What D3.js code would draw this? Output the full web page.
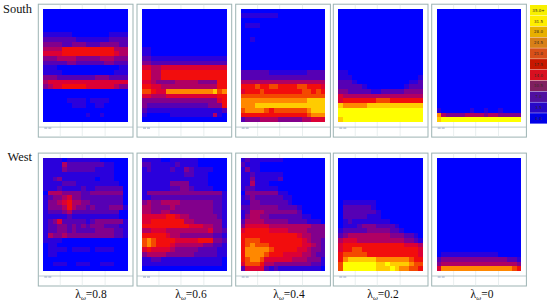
<!DOCTYPE html>
<html>
<head>
<meta charset="utf-8">
<script src="https://cdn.jsdelivr.net/npm/d3@7"></script>
<style>
    html, body { margin: 0; padding: 0; background: #fff; }
    svg { display: block; }
    text { font-family: "Liberation Serif", serif; fill: #111; }
</style>
</head>
<body>
<div id="chart"></div>
<script>
// Values are colour classes, one hex digit per cell (0..a), top row first.
// A class is one step of the legend, so class * 3.5 is the value.
const south08 = [
    '000000000000000000', '000000000000000000', '000000000000000000', '000000000000000000',
    '000000000000000000', '111111000000001111', '222222211111112222', '333322333222333322',
    '444466666666666444', '555566666666666544', '333444433333444333', '222223322222233222',
    '111000000000000011', '111100000000000111', '333222222223332222', '455555555555555555',
    '345566666555555433', '000000000000000000', '000000000000000000', '000001111011110000',
    '000000111001100000', '000000000000000000', '000000000100100000', '000000000000000000'
];
const south06 = [
    '000000000000000000', '000000000000000000', '000000000000000000', '000000000000000000',
    '000000000000000000', '000000000000000000', '000000000000000000', '000000000000000000',
    '110000000000000000', '110000000000000000', '221111111111111111', '332222222222222222',
    '554455555555555555', '664466666666666666', '664466666666666666', '554333344444333366',
    '665544444444444466', '776558888888888978', '554445555555555566', '333333333333333356',
    '322222222222223336', '211111111111111112', '100000111111111410', '000000000000000000'
];
const south04 = [
    '000000000000000000', '111111110000000000', '000000000000000000', '011100000000000000',
    '000000000000000000', '000000000000000000', '001000000000000000', '000000000000000000',
    '000000000000000000', '000000000000000000', '000000000000000000', '000000000000000000',
    '000000000000000000', '222222111111112222', '222222222222222222', '444444444444444444',
    '666766776666776665', '566676666666677676', '777777777777777777', '888888888888889999',
    '888999999999999999', '788887677777778999', '666666666666667888', '233344443333344555'
];
const south02 = [
    '000000000000000000', '000000000000000000', '000000000000000000', '000000000000000000',
    '000000000000000000', '000000000000000000', '000000000000000000', '000000000000000000',
    '000000000000000000', '000000000000000000', '000000000000000000', '000000000000000000',
    '000000000000000000', '110000000000000000', '111000000000000001', '222100000000000112',
    '222221000000001222', '332222211222223333', '544444444444444444', '566666667776666666',
    '988888999999999999', 'aaaaaaaaaaaaaaaaaa', 'aaaaaaaaaaaaaaaaaa', '9aaaaaaaaaaaaaaaaa'
];
const south00 = [
    '000000000000000000', '000000000000000000', '000000000000000000', '000000000000000000',
    '000000000000000000', '000000000000000000', '000000000000000000', '000000000000000000',
    '000000000000000000', '000000000000000000', '000000000000000000', '000000000000000000',
    '000000000000000000', '000000000000000000', '000000000000000000', '000000000000000000',
    '000000000000000000', '000000000000000000', '000000000000000000', '000000000000000000',
    '000000000000000000', '100000010010010000', '843333444434433333', '9aaaaaaaaaaaaaaaaa'
];
const west08 = [
    '111101111111000000', '111142222222211000', '111132222221111000', '111111111111111000',
    '112311111110111000', '111122211111111100', '111211112112222220', '044433332233333330',
    '123345332222222220', '133456443322222220', '133346433232223331', '122234222222222200',
    '111112111111111100', '123522222123333331', '122332323233322211', '122332322223333221',
    '143343333333333221', '111100000000000000', '011000000000000000', '011110111101111000',
    '011000000000000000', '000000000000000000', '001110011100111000', '000000000000000000'
];
const west06 = [
    '111100111111000000', '221111121111000000', '121111211321111000', '111111111221110000',
    '111111111111110000', '111111333311110000', '111111223321111000', '133333333333333331',
    '112222222222222221', '343344443333333221', '443333433333333221', '443344333333333221',
    '555556654433333321', '556666666443333331', '666666666655544331', '445554444444445332',
    '666665443333333221', '787666655555666332', '787666544444433221', '565555433333222211',
    '344443333332222211', '112211111111111110', '111111111111111110', '000000000000000000'
];
const west04 = [
    '121111111000000000', '211100000000000000', '131100000000000000', '112111111000000000',
    '113111112000000000', '114111000000000000', '122111110000000000', '033333331100000000',
    '123222222110000000', '113322222210000000', '223333332222100000', '124443333333200000',
    '134433222222211000', '244443333322221110', '355555444444444333', '566666555544443333',
    '666666666666544333', '677766666666654332', '678777666666655432', '688888766666554332',
    '688887666555544322', '678875555554443331', '577764433333333221', '255552121111111110'
];
const west02 = [
    '000000000000000000', '000000000000000000', '000000000000000000', '000000000000000000',
    '000000000000000000', '000000000000000000', '000000000000000000', '000000000000000000',
    '000000000000000000', '011111110000000000', '022222210000000000', '022222221000000000',
    '022222111000000000', '012111111110000000', '011123332222100000', '122222333332210000',
    '234444444443332210', '455544444444443321', '566666666666665554', '566776666666666665',
    '677777666666666665', '689999998888888766', '7aaaaaaa99a9999877', '7aaaaaaa999a988776'
];
const west00 = [
    '000000000000000000', '000000000000000000', '000000000000000000', '000000000000000000',
    '000000000000000000', '000000000000000000', '000000000000000000', '000000000000000000',
    '000000000000000000', '000000000000000000', '000000000000000000', '000000000000000000',
    '000000000000000000', '000000000000000000', '000000000000000000', '000000000000000000',
    '000000000000000000', '000000000000000000', '000000000000000000', '000000000000000000',
    '011111111111100000', '233333333333333221', '344444444444444443', '588888888888888876'
];

const southPanels = [south08, south06, south04, south02, south00];
const westPanels = [west08, west06, west04, west02, west00];
const panelLabels = ['0.8', '0.6', '0.4', '0.2', '0'];
const rowLabels = ['South', 'West'];

// Legend, top box first
const legendLabels = ['35.0+', '31.5', '28.0', '24.5', '21.0', '17.5', '14.0', '10.5', '7.0', '3.5', '0.0'];
const legendColors = ['#f8f000', '#ffee00', '#e8b000', '#d88018', '#d85018', '#c81800', '#d81020', '#802060', '#5010a0', '#2808c8', '#0000e8'];

// Colours of the cells, low to high
const heatStops = [0, 3.5, 7, 10.5, 14, 17.5, 21, 24.5, 28, 31.5, 35];
const heatColors = ['#0000ff', '#2c00dc', '#5600b4', '#82008c', '#b00064', '#dc0034', '#f20808', '#f44800', '#ff8800', '#ffcc00', '#ffff00'];

const width = 550;
const height = 303;
const heatW = 84.7;
const heatH = 113.4;
const heatLefts = [43.3, 142, 240.7, 338.3, 436.7];
const heatTops = [8.7, 157.6];
const labelCenters = [91, 191, 289, 383, 482];

const color = d3.scaleLinear().domain(heatStops).range(heatColors);

const svg = d3.select('#chart')
    .append('svg')
    .attr('width', width)
    .attr('height', height);

svg.append('defs')
    .append('filter')
    .attr('id', 'soft')
    .attr('x', '-2%').attr('y', '-2%').attr('width', '104%').attr('height', '104%')
    .append('feGaussianBlur')
    .attr('stdDeviation', 0.55);

const xCell = d3.scaleBand().domain(d3.range(18)).range([0, heatW]);
const yCell = d3.scaleBand().domain(d3.range(24)).range([0, heatH]);

// Draw one small multiple: frame, faint grid, then the heat cells
const drawPanel = (rows, left, top) => {
    const g = svg.append('g').attr('transform', `translate(${left}, ${top})`);

    g.append('rect')
        .attr('x', -5).attr('y', -4.5)
        .attr('width', heatW + 10).attr('height', heatH + 19.5)
        .attr('fill', '#fff')
        .attr('stroke', '#9db3b3')
        .attr('stroke-width', 1);

    g.selectAll('.grid')
        .data([0.2, 0.46, 0.73])
        .enter()
        .append('line')
        .attr('class', 'grid')
        .attr('x1', d => heatW * d).attr('x2', d => heatW * d)
        .attr('y1', -4).attr('y2', heatH + 14.5)
        .attr('stroke', '#dfe8e8')
        .attr('stroke-width', 0.7);

    // x axis line under the heat area
    g.append('line')
        .attr('x1', -5).attr('x2', heatW + 5)
        .attr('y1', heatH + 5).attr('y2', heatH + 5)
        .attr('stroke', '#a9bcc0')
        .attr('stroke-width', 0.8);

    g.append('line')
        .attr('x1', 1).attr('x2', 9)
        .attr('y1', heatH + 6).attr('y2', heatH + 6)
        .attr('stroke', '#7f93b5')
        .attr('stroke-width', 0.8)
        .attr('stroke-dasharray', '3,1');

    const cells = [];
    rows.forEach((row, r) => {
        row.split('').forEach((c, col) => {
            cells.push({ r: r, col: col, value: parseInt(c, 16) * 3.5 });
        });
    });

    // crisp edges so neighbouring cells meet without seams, the blur softens them afterwards
    g.append('g')
        .attr('filter', 'url(#soft)')
        .selectAll('rect')
        .data(cells)
        .enter()
        .append('rect')
        .attr('x', d => xCell(d.col))
        .attr('y', d => yCell(d.r))
        .attr('width', xCell.bandwidth())
        .attr('height', yCell.bandwidth())
        .attr('shape-rendering', 'crispEdges')
        .attr('fill', d => color(d.value));
};

southPanels.forEach((rows, i) => drawPanel(rows, heatLefts[i], heatTops[0]));
westPanels.forEach((rows, i) => drawPanel(rows, heatLefts[i], heatTops[1]));

// Row titles
svg.selectAll('.row-label')
    .data(rowLabels)
    .enter()
    .append('text')
    .attr('class', 'row-label')
    .attr('x', 32)
    .attr('y', (d, i) => [13, 161][i])
    .attr('text-anchor', 'end')
    .style('font-size', '12.4px')
    .text(d => d);

// Panel titles under the bottom row
const titles = svg.selectAll('.panel-label')
    .data(panelLabels)
    .enter()
    .append('text')
    .attr('class', 'panel-label')
    .attr('x', (d, i) => labelCenters[i])
    .attr('y', 298)
    .attr('text-anchor', 'middle')
    .style('font-size', '11.5px');
titles.append('tspan').text('λ');
titles.append('tspan').attr('dy', 2).style('font-size', '7px').style('font-style', 'italic').text('ω');
titles.append('tspan').attr('dy', -2).text(d => '=' + d);

// Legend
const yLegend = d3.scaleBand().domain(legendLabels).range([5, 124]);
const legend = svg.selectAll('.legend')
    .data(legendLabels)
    .enter()
    .append('g')
    .attr('class', 'legend')
    .attr('transform', d => `translate(530, ${yLegend(d)})`);

legend.append('rect')
    .attr('width', 17)
    .attr('height', yLegend.bandwidth() - 0.4)
    .attr('fill', (d, i) => legendColors[i]);

legend.append('text')
    .attr('x', 8.5)
    .attr('y', yLegend.bandwidth() / 2 + 1.3)
    .attr('text-anchor', 'middle')
    .style('font-size', '4px')
    .style('font-family', '"DejaVu Sans", sans-serif')
    .style('fill', '#3a2a20')
    .text(d => d);
</script>
</body>
</html>
